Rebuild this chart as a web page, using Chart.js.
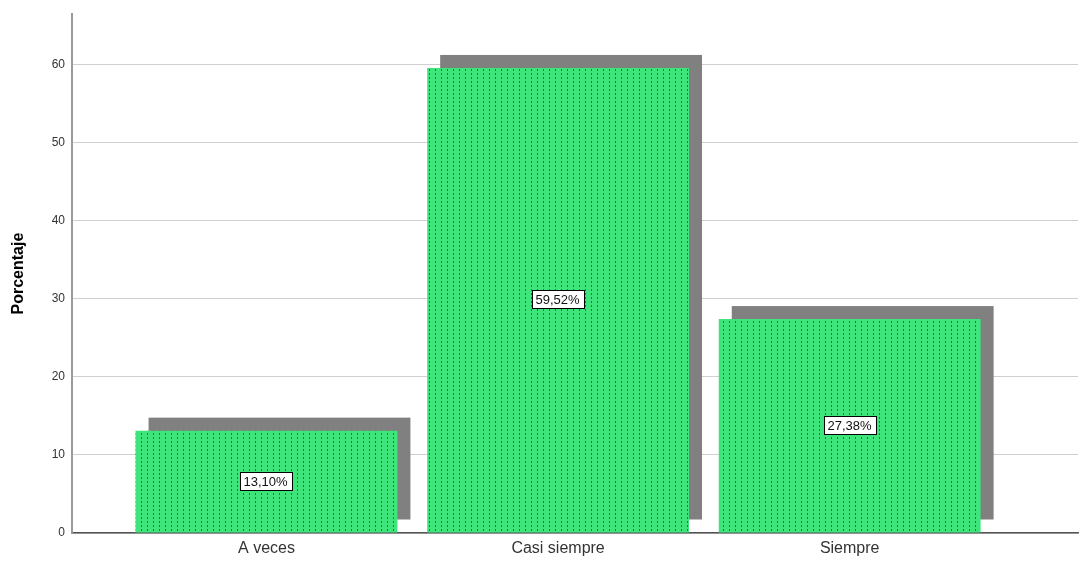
<!DOCTYPE html>
<html>
<head>
<meta charset="utf-8">
<script src="https://cdn.jsdelivr.net/npm/chart.js@4/dist/chart.umd.min.js"></script>
<style>
  html, body { margin: 0; padding: 0; background: #fff; }
  #wrap { width: 1086px; height: 565px; position: relative; }
</style>
</head>
<body>
<div id="wrap"><canvas id="c"></canvas></div>
<script>
// Frequency distribution of answers (percent of respondents)
const categories = ['A veces', 'Casi siempre', 'Siempre'];
const percentages = [13.10, 59.52, 27.38];
const yTicks = [0, 10, 20, 30, 40, 50, 60];

// Green fill with a fine dotted texture
function dottedFill() {
  const t = document.createElement('canvas');
  t.width = 6; t.height = 4;
  const g = t.getContext('2d');
  g.fillStyle = '#3de57b';
  g.fillRect(0, 0, 6, 4);
  g.fillStyle = '#1f7a3f';
  g.fillRect(3, 1, 1, 2);
  return g.createPattern(t, 'repeat');
}

const SHADOW_DX = 13, SHADOW_DY = -13;

// Grey drop block behind each bar
const barShadow = {
  id: 'barShadow',
  beforeDatasetsDraw(chart) {
    const ctx = chart.ctx;
    ctx.save();
    ctx.fillStyle = '#808080';
    chart.getDatasetMeta(0).data.forEach(bar => {
      const w = bar.width;
      ctx.fillRect(bar.x - w / 2 + SHADOW_DX, bar.y + SHADOW_DY, w, bar.base - bar.y);
    });
    ctx.restore();
  }
};

// Boxed percentage label in the middle of each bar
const valueBoxes = {
  id: 'valueBoxes',
  afterDatasetsDraw(chart) {
    const ctx = chart.ctx;
    ctx.save();
    ctx.font = '13px "Liberation Sans", Arial, sans-serif';
    ctx.textAlign = 'center';
    ctx.textBaseline = 'middle';
    chart.getDatasetMeta(0).data.forEach((bar, i) => {
      const txt = percentages[i].toFixed(2).replace('.', ',') + '%';
      const tw = ctx.measureText(txt).width;
      const cx = Math.round(bar.x) - 0.5;
      const cy = Math.round((bar.y + bar.base) / 2) - 1;
      const bw = Math.round(tw + 8), bh = 18;
      const x0 = Math.round(cx - bw / 2) + 0.5, y0 = Math.round(cy - bh / 2) + 0.5;
      ctx.fillStyle = '#ffffff';
      ctx.fillRect(x0, y0, bw, bh);
      ctx.strokeStyle = '#000000';
      ctx.lineWidth = 1;
      ctx.strokeRect(x0, y0, bw, bh);
      ctx.fillStyle = '#111111';
      ctx.fillText(txt, cx, cy + 1);
    });
    ctx.restore();
  }
};

const ctx = document.getElementById('c').getContext('2d');
new Chart(ctx, {
  type: 'bar',
  data: {
    datasets: [{
      data: percentages.map((v, i) => ({ x: i, y: v })),
      backgroundColor: dottedFill(),
      borderWidth: 0,
      categoryPercentage: 1,
      barPercentage: 0.898
    }]
  },
  plugins: [barShadow, valueBoxes],
  options: {
    responsive: true,
    maintainAspectRatio: false,
    animation: false,
    layout: { padding: { top: 13, right: 8, left: 0, bottom: 0 } },
    plugins: { legend: { display: false }, tooltip: { enabled: false } },
    scales: {
      x: {
        type: 'linear',
        offset: false,
        min: -0.667,
        max: 2.783,
        afterBuildTicks(scale) { scale.ticks = categories.map((_, i) => ({ value: i })); },
        afterFit(scale) { scale.height = 32; },
        grid: { display: false, drawTicks: false, offset: false },
        border: { display: true, color: '#555555', width: 1.5 },
        ticks: {
          autoSkip: false,
          maxRotation: 0,
          padding: 6,
          color: '#333333',
          font: { family: '"Liberation Sans", Arial, sans-serif', size: 16 },
          callback: v => categories[v] ?? ''
        }
      },
      y: {
        min: 0,
        max: 66.4,
        afterBuildTicks(scale) { scale.ticks = yTicks.map(v => ({ value: v })); },
        afterFit(scale) { scale.width = 72; },
        grid: { color: '#cfcfcf', lineWidth: 1, drawTicks: false },
        border: { display: true, color: '#9a9a9a', width: 2 },
        ticks: {
          padding: 7,
          color: '#333333',
          font: { family: '"Liberation Sans", Arial, sans-serif', size: 12 }
        },
        title: {
          display: true,
          text: 'Porcentaje',
          color: '#000000',
          padding: { top: 9, bottom: 0 },
          font: { family: '"Liberation Sans", Arial, sans-serif', size: 16, weight: 'bold' }
        }
      }
    }
  }
});
</script>
</body>
</html>
